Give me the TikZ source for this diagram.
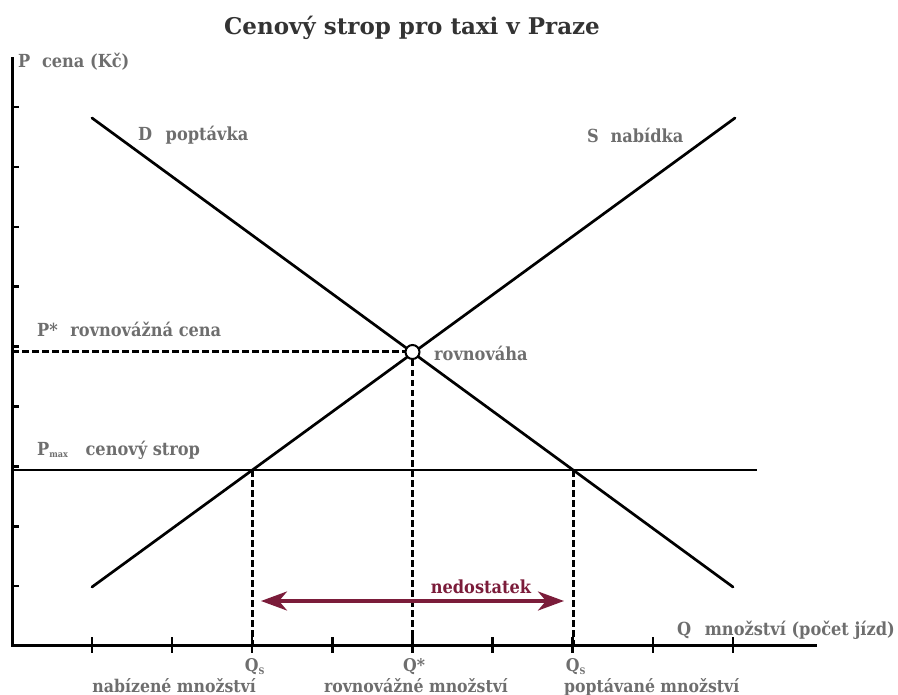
\documentclass[tikz,border=0pt]{standalone}
\usepackage{fontspec}
\setmainfont{DejaVu Serif}
\newfontfamily\condfont{DejaVu Serif Condensed}
\usetikzlibrary{arrows.meta}
\definecolor{labgray}{HTML}{6E6E6E}
\definecolor{titlegray}{HTML}{333333}
\definecolor{shortred}{HTML}{7B1C3A}
\newcommand{\smallsub}[1]{\textsubscript{\fontsize{9}{10}\selectfont #1}}
\tikzset{
  lab/.style={text=labgray, font=\condfont\bfseries\fontsize{18}{20}\selectfont, inner sep=0pt},
  botlab/.style={text=labgray, font=\condfont\bfseries\fontsize{17.5}{20}\selectfont, inner sep=0pt},
  axisline/.style={line width=3pt, line cap=rect},
  curve/.style={line width=2.7pt, line cap=round},
  tick/.style={line width=2.4pt},
  guide/.style={line width=3pt, dash pattern=on 6.5pt off 3.5pt},
  shortarrow/.style={line width=3.6pt, color=shortred, {Stealth[length=26pt,width=19pt,inset=8pt]}-{Stealth[length=26pt,width=19pt,inset=8pt]}},
}
\begin{document}
\begin{tikzpicture}[x=1pt,y=-1pt]
\useasboundingbox (0,0) rectangle (898,695);
% title
\node[text=titlegray, font=\bfseries\fontsize{23}{26}\selectfont, inner sep=0pt] (title) at (412,28) {Cenový strop pro taxi v Praze};
% axes
\coordinate (O) at (12,645);
\coordinate (ytop) at (12,59);
\coordinate (xend) at (815,645);
\draw[axisline] (ytop) -- (O) -- (xend);
% y ticks
\foreach \k in {0,...,8} {
  \draw[tick] (12,{107+59.9*\k}) -- (19,{107+59.9*\k});
}
% x ticks
\foreach \k in {0,...,8} {
  \draw[tick] ({92+80.1*\k},637) -- ({92+80.1*\k},653);
}
% curves
\coordinate (Dtop) at (92,118);
\coordinate (Dbot) at (733,587);
\coordinate (Sbot) at (92,587);
\coordinate (Stop) at (735,118);
\draw[curve] (Dtop) -- (Dbot);
\draw[curve] (Sbot) -- (Stop);
% price ceiling
\coordinate (pmaxL) at (12,470);
\coordinate (pmaxR) at (757,470);
\draw[line width=2.6pt] (pmaxL) -- (pmaxR);
\coordinate (A) at (252,470);
\coordinate (B) at (573,470);
\coordinate (Aax) at (252,645);
\coordinate (Bax) at (573,645);
% equilibrium
\node[circle, draw, fill=white, line width=2pt, minimum size=14pt, inner sep=0pt] (eq) at (412.5,352) {};
\coordinate (pstarL) at (12,352);
\coordinate (qstarB) at (412.5,645);
\draw[guide] (pstarL) -- (eq.west);
\draw[guide] (eq.south) -- (qstarB);
\draw[guide] (A) -- (Aax);
\draw[guide] (B) -- (Bax);
% shortage arrow
\coordinate (arrL) at (261,601);
\coordinate (arrR) at (564,601);
\draw[shortarrow] (arrL) -- (arrR);
\node[text=shortred, font=\condfont\bfseries\fontsize{18}{20}\selectfont, inner sep=0pt] (short) at (481,587) {nedostatek};
% labels
\node[lab, anchor=west] (plab) at (18,62) {P\hspace{0.65em}cena (Kč)};
\node[lab, anchor=west] (dlab) at (138,135) {D\hspace{0.75em}poptávka};
\node[lab, anchor=west] (slab) at (587,135) {S\hspace{0.65em}nabídka};
\node[lab, anchor=west] (pslab) at (37,329) {P*\hspace{0.7em}rovnovážná cena};
\node[lab, anchor=west] (eqlab) at (434,353) {rovnováha};
\node[lab, anchor=west] (pmlab) at (37,450) {P\smallsub{max}\hspace{0.95em}cenový strop};
\node[lab, anchor=east] (qlab) at (895,630) {Q\hspace{0.75em}množství (počet jízd)};
% bottom labels
\node[botlab] (qs1) at (255,667) {Q\smallsub{S}};
\node[botlab] (qst) at (414,667) {Q*};
\node[botlab] (qs2) at (576,667) {Q\smallsub{S}};
\node[botlab, anchor=base east] (nab) at (256,692) {nabízené množství};
\node[botlab, anchor=base] (rov) at (416,692) {rovnovážné množství};
\node[botlab, anchor=base west] (pop) at (564,692) {poptávané množství};
\end{tikzpicture}
\end{document}
